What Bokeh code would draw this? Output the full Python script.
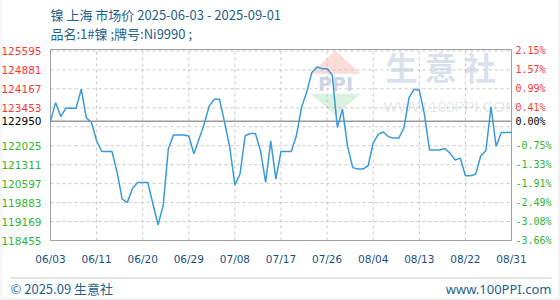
import numpy as np
from bokeh.plotting import figure
from bokeh.models import Range1d, Label, ColumnDataSource, PolyAnnotation
from bokeh.core.properties import value
from bokeh.embed import file_html
from bokeh.resources import INLINE

# ---------------- data ----------------
title_text = "镍 上海 市场价 2025-06-03 - 2025-09-01"
subtitle_text = "品名:1#镍 ;牌号:Ni9990 ;"
footer_left = "© 2025.09 生意社"
footer_right = "www.100PPI.com"

# daily price (yuan/ton), 2025-06-03 ... 2025-09-01
prices = [
    122950, 123649, 123123, 123439, 123439, 123439, 124153, 123074, 122897, 122210,
    121808, 121808, 121808, 121020, 120017, 119891, 120417, 120640, 120640, 120640,
    119831, 119050, 119768, 121897, 122424, 122424, 122424, 122390, 121720, 122273,
    122837, 123525, 123777, 123777, 122897, 121958, 120550, 120958, 122400, 122484,
    122484, 121834, 120643, 122210, 120770, 121808, 121808, 121808, 122397, 123461,
    124025, 124776, 124990, 124927, 124927, 124690, 122709, 123399, 122000, 121200,
    121146, 121146, 121270, 122120, 122461, 122540, 122360, 122311, 122311, 122700,
    123837, 124153, 124115, 123213, 121860, 121860, 121860, 121920, 121747, 121484,
    121559, 120894, 120894, 120950, 121646, 121834, 123500, 121996, 122522, 122522,
    122522,
]
base_price = 122950
x_labels = ["06/03", "06/11", "06/20", "06/29", "07/08", "07/17",
            "07/26", "08/04", "08/13", "08/22", "08/31"]
y_grid_values = [125595, 124881, 124167, 123453, 122739, 122025,
                 121311, 120597, 119883, 119169, 118455]
y_label_values = [125595, 124881, 124167, 123453, 122950, 122025,
                  121311, 120597, 119883, 119169, 118455]
y_min, y_max = 118455, 125648

# ---------------- derived ----------------
days = np.arange(len(prices))
n_days = len(prices) - 1
x_ticks = [round(i * n_days / (len(x_labels) - 1)) for i in range(len(x_labels))]

RED, GREEN, BLACK = "#ff3535", "#2fb52f", "#000000"
def col(v):
    return RED if v > base_price else (GREEN if v < base_price else BLACK)

left_text = [str(v) for v in y_label_values]
right_text = ["%.2f%%" % ((v - base_price) / base_price * 100) for v in y_label_values]
right_text = [t if t != "-0.00%" else "0.00%" for t in right_text]
label_colors = [col(v) for v in y_label_values]

# ---------------- layout (pixels) ----------------
W, H = 560, 300
PL, PR, PT, PB = 50, 511, 49, 240          # plot-area edges on the canvas
ux = n_days / (PR - PL)
uy = (y_max - y_min) / (PB - PT)
x_range = Range1d(0 - PL * ux, n_days + (W - PR) * ux)
y_range = Range1d(y_min - (H - PB) * uy, y_max + PT * uy)

p = figure(width=W, height=H, output_backend="svg", toolbar_location=None,
           x_range=x_range, y_range=y_range, min_border=0,
           min_border_left=0, min_border_right=0, min_border_top=0,
           min_border_bottom=0, background_fill_color="white",
           border_fill_color="white")
p.outline_line_color = None
p.xaxis.visible = False
p.yaxis.visible = False
p.grid.visible = False

# ---------------- watermark ----------------
p.add_layout(PolyAnnotation(xs=[310, 360, 335], ys=[226.7, 226.7, 250],
                            xs_units="screen", ys_units="screen",
                            fill_color="#fbdcd8", fill_alpha=1, line_color=None,
                            level="image"))
p.add_layout(PolyAnnotation(xs=[310, 360, 335], ys=[206.7, 206.7, 185],
                            xs_units="screen", ys_units="screen",
                            fill_color="#d9f1de", fill_alpha=1, line_color=None,
                            level="image"))
p.add_layout(Label(x=335, y=217, x_units="screen", y_units="screen", text="PPI",
                   text_align="center", text_baseline="middle",
                   text_font="DejaVu Sans", text_font_size="19px",
                   text_font_style="bold", text_color="#cdd5e6", level="image"))
p.add_layout(Label(x=385, y=235, x_units="screen", y_units="screen",
                   text="生  意  社", text_align="left", text_baseline="middle",
                   text_font="Noto Sans CJK SC", text_font_size="32px",
                   text_font_style="bold", text_color="#dbe1ec", level="image"))
p.add_layout(Label(x=383, y=194, x_units="screen", y_units="screen",
                   text="WWW.100PPI.COM", text_align="left", text_baseline="middle",
                   text_font="Liberation Sans", text_font_size="15px",
                   text_color="#e4e7ee", level="image"))

# ---------------- grid, frame, base line ----------------
p.segment(x0=[0] * len(y_grid_values), x1=[n_days] * len(y_grid_values),
          y0=y_grid_values, y1=y_grid_values,
          line_color="#c8c8c8", line_dash="3 3", line_width=1)
p.segment(x0=x_ticks, x1=x_ticks, y0=[y_min] * len(x_ticks), y1=[y_max] * len(x_ticks),
          line_color="#c8c8c8", line_dash="3 3", line_width=1)
p.segment(x0=[0], x1=[n_days], y0=[base_price], y1=[base_price],
          line_color="#999999", line_width=1.5)
p.quad(left=[0], right=[n_days], bottom=[y_min], top=[y_max],
       fill_color=None, line_color="#a0a0a0", line_width=1)

# ---------------- series ----------------
p.line(days, prices, line_color="#3a9ad9", line_width=1.5)

# ---------------- axis labels ----------------
lbl = ColumnDataSource(dict(y=y_label_values, left=left_text, right=right_text,
                            color=label_colors,
                            x0=[0] * len(y_label_values),
                            x1=[n_days] * len(y_label_values)))
p.text(x="x0", y="y", text="left", source=lbl, x_offset=-9,
       text_align="right", text_baseline="middle",
       text_font=value("DejaVu Sans"), text_font_size="10.5px", text_color="color")
p.text(x="x1", y="y", text="right", source=lbl, x_offset=4,
       text_align="left", text_baseline="middle",
       text_font=value("DejaVu Sans Mono"), text_font_size="10px", text_color="color")
p.text(x=x_ticks, y=[y_min] * len(x_ticks), text=x_labels, y_offset=18,
       text_align="center", text_baseline="middle",
       text_font=value("DejaVu Sans"), text_font_size="10.5px", text_color="#1a4f7f")

# ---------------- titles & footer ----------------
title_color = "#1f5f8b"
p.add_layout(Label(x=PL, y=H - 14, x_units="screen", y_units="screen", text=title_text,
                   text_align="left", text_baseline="middle",
                   text_font="Noto Sans CJK SC", text_font_size="13px",
                   text_color=title_color))
p.add_layout(Label(x=PL, y=H - 33, x_units="screen", y_units="screen", text=subtitle_text,
                   text_align="left", text_baseline="middle",
                   text_font="Noto Sans CJK SC", text_font_size="13px",
                   text_color=title_color))
p.add_layout(Label(x=10, y=H - 288, x_units="screen", y_units="screen", text=footer_left,
                   text_align="left", text_baseline="middle",
                   text_font="Noto Sans CJK SC", text_font_size="13px",
                   text_color=title_color))
p.add_layout(Label(x=551, y=H - 288, x_units="screen", y_units="screen", text=footer_right,
                   text_align="right", text_baseline="middle",
                   text_font="Noto Sans", text_font_size="13px",
                   text_color=title_color))

# separator and outer border
p.add_layout(PolyAnnotation(xs=[10, 551, 551, 10], ys=[22.5, 22.5, 22.5, 22.5],
                            xs_units="screen", ys_units="screen",
                            fill_color=None, line_color="#999999", line_width=1))
p.add_layout(PolyAnnotation(xs=[0.5, 558.5, 558.5, 0.5], ys=[301, 301, 1.5, 1.5],
                            xs_units="screen", ys_units="screen",
                            fill_color=None, line_color="#a0a0a0", line_width=1))

open("out.html", "w").write(file_html(p, INLINE))
